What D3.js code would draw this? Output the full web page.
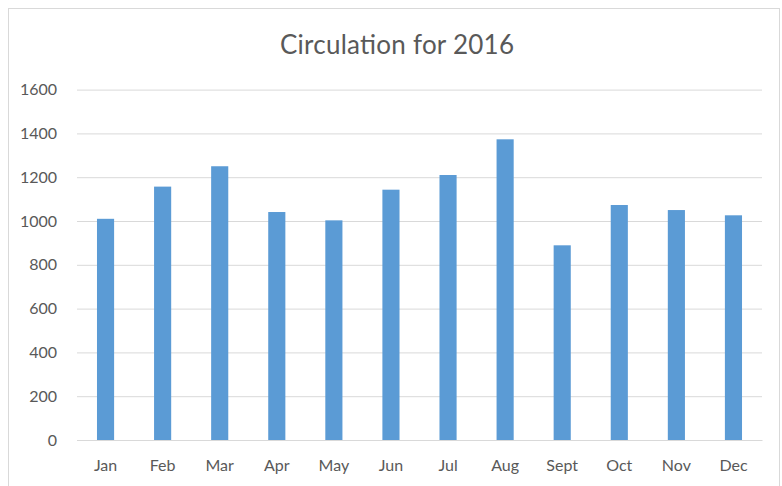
<!DOCTYPE html>
<html><head><meta charset="utf-8">
<script src="https://cdn.jsdelivr.net/npm/d3@7"></script>
<style>body{margin:0;background:#fff}svg{display:block}</style>
</head><body>
<script>
const months = ["Jan","Feb","Mar","Apr","May","Jun","Jul","Aug","Sept","Oct","Nov","Dec"];
const circulation = [1010,1157,1250,1041,1003,1143,1210,1373,889,1073,1050,1026];
const yTicks = [0,200,400,600,800,1000,1200,1400,1600];
const title = "Circulation for 2016";

const W = 782, H = 486;
const svg = d3.select("body").append("svg").attr("width", W).attr("height", H);
svg.append("rect").attr("x", 8.5).attr("y", 8.5).attr("width", 771).attr("height", 490)
  .attr("fill", "#fff").attr("stroke", "#d9d9d9");

const x = d3.scaleBand().domain(months).range([77, 762]).paddingInner(0.7).paddingOuter(0.35);
const y = d3.scaleLinear().domain([0, 1600]).range([440, 89.6]);
const font = "Lato, 'Open Sans', sans-serif";

svg.append("text").attr("x", 397).attr("y", 54).attr("text-anchor", "middle")
  .attr("font-family", font).attr("font-size", 26).attr("fill", "#595959")
  .attr("textLength", 234).text(title);

const yAxis = svg.append("g").attr("transform", "translate(77,0)")
  .call(d3.axisLeft(y).tickValues(yTicks).tickSize(-685).tickPadding(20).tickFormat(d3.format("d")));
yAxis.select(".domain").remove();
yAxis.selectAll("line").attr("stroke", "#d9d9d9").attr("stroke-width", 1);
yAxis.selectAll("text").attr("font-family", font).attr("font-size", 16).attr("fill", "#595959");

svg.selectAll("rect.bar").data(circulation).join("rect").attr("class", "bar")
  .attr("x", (d, i) => x(months[i])).attr("width", x.bandwidth())
  .attr("y", d => y(d)).attr("height", d => y(0) - y(d)).attr("fill", "#5b9bd5");

const xAxis = svg.append("g").attr("transform", "translate(0,440)")
  .call(d3.axisBottom(x).tickSize(0).tickPadding(20));
xAxis.select(".domain").attr("stroke", "#d9d9d9");
xAxis.selectAll("text").attr("font-family", font).attr("font-size", 16).attr("fill", "#595959");
</script>
</body></html>
